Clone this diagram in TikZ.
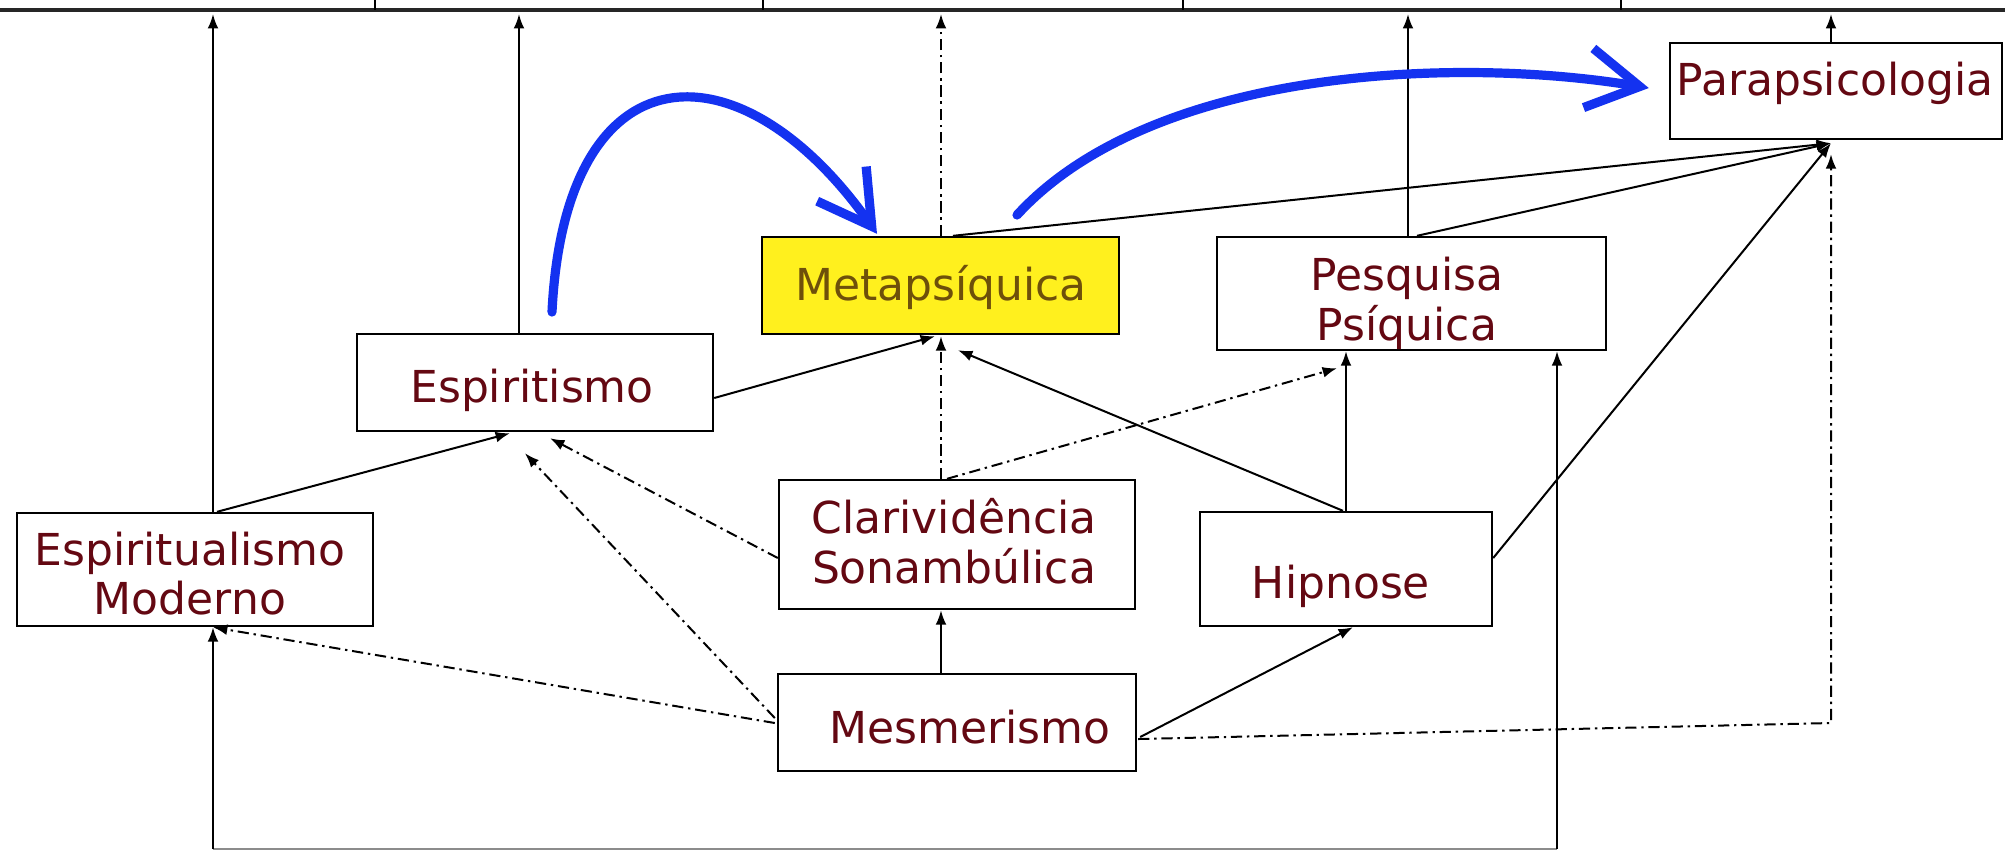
\documentclass[tikz,border=0pt]{standalone}
\usepackage{fontspec}
\setmainfont{DejaVu Sans}
\usetikzlibrary{arrows.meta,calc}
\definecolor{txt}{RGB}{100,8,18}
\definecolor{mettxt}{RGB}{110,80,10}
\definecolor{metfill}{RGB}{255,240,30}
\definecolor{blu}{RGB}{20,50,240}
\begin{document}
\begin{tikzpicture}[x=0.25pt,y=-0.25pt,
  box/.style={draw=black,line width=0.6pt,fill=white,inner sep=0pt},
  lbl/.style={anchor=base,inner sep=0pt,text=txt,font=\fontsize{11}{12.4}\selectfont},
  conn/.style={line width=0.5pt,-{Latex[length=3.6pt,width=2.7pt]}},
  dd/.style={dash pattern=on 2.8pt off 1.2pt on 0.6pt off 1.2pt},
  bluearrow/.style={draw=blu,line width=2.3pt,line cap=round,-{Straight Barb[length=13pt,width=15pt,line width=2.3pt]}}]
\useasboundingbox (0,0) rectangle (2005,851);
\fill[white] (0,0) rectangle (2005,851);
% top bar
\draw[line width=0.9pt,black!85] (0,10) -- (2005,10);
\foreach \x in {375,763,1183,1621} \draw[line width=0.5pt] (\x,0) -- (\x,10);
% boxes
\node[box,minimum width=83pt,minimum height=24pt] (para) at (1836,91) {};
\node[box,fill=metfill,minimum width=89.25pt,minimum height=24.25pt] (meta) at (940.5,285.5) {};
\node[box,minimum width=97.25pt,minimum height=28.25pt] (pesq) at (1411.5,293.5) {};
\node[box,minimum width=89pt,minimum height=24.25pt] (espi) at (535,382.5) {};
\node[box,minimum width=89pt,minimum height=28.25pt] (mod) at (195,569.5) {};
\node[box,minimum width=89pt,minimum height=32.25pt] (clar) at (957,544.5) {};
\node[box,minimum width=73pt,minimum height=28.5pt] (hip) at (1346,569) {};
\node[box,minimum width=89.5pt,minimum height=24.25pt] (mes) at (957,722.5) {};
% texts
\node[lbl] (paraT) at (1835,95) {Parapsicologia};
\node[lbl,text=mettxt] (metaT) at (941,300) {Metapsíquica};
\node[lbl] (pesqT) at (1407,290) {\begin{tabular}[t]{@{}c@{}}Pesquisa\\Psíquica\end{tabular}};
\node[lbl] (espiT) at (532,402) {Espiritismo};
\node[lbl] (modT) at (190,565) {\begin{tabular}[t]{@{}c@{}}Espiritualismo\\Moderno\end{tabular}};
\node[lbl] (clarT) at (954,533) {\begin{tabular}[t]{@{}c@{}}Clarividência\\Sonambúlica\end{tabular}};
\node[lbl] (hipT) at (1341,598) {Hipnose};
\node[lbl] (mesT) at (970,743) {Mesmerismo};
% coordinates
\coordinate (tA) at (213,14);
\coordinate (tB) at (519,14);
\coordinate (tC) at (941,14);
\coordinate (tD) at (1408,14);
\coordinate (tE) at (1831,14);
\coordinate (bL) at (213,849);
\coordinate (bR) at (1557,849);
\coordinate (corner) at (1831,723);
\coordinate (b1s) at (552,312);
\coordinate (b2s) at (1017,215);
% connectors to top bar
\draw[conn] ($(mod.north)+(18,0)$) -- (tA);
\draw[conn] ($(espi.north)+(-16,0)$) -- (tB);
\draw[conn,dd] ($(meta.north)+(0.5,0)$) -- (tC);
\draw[conn] ($(pesq.north)+(-3.5,0)$) -- (tD);
\draw[conn] ($(para.north)+(-5,0)$) -- (tE);
% bottom loop
\draw[line width=0.5pt,black!45] (bL) -- (bR);
\draw[conn] (bL) -- ($(mod.south)+(18,0)$);
\draw[conn] (bR) -- ($(pesq.south)+(145.5,0)$);
% others
\draw[conn] ($(mod.north)+(22,0)$) -- ($(espi.south)+(-25,1)$);
\draw[conn,dd] ($(clar.west)+(0,13.5)$) -- ($(espi.south)+(15,6)$);
\draw[conn,dd] ($(mes.west)+(-2,-4.5)$) -- ($(espi.south)+(-10,21)$);
\draw[conn,dd] ($(mes.west)+(-2,0.5)$) -- ($(mod.south)+(18,0)$);
\draw[conn] ($(espi.east)+(0,15.5)$) -- ($(meta.south)+(-5.5,1)$);
\draw[conn,dd] ($(clar.north)+(-16,0)$) -- ($(meta.south)+(0.5,1)$);
\draw[conn] ($(hip.north)+(-3,0)$) -- ($(meta.south)+(17.5,15)$);
\draw[conn,dd] ($(clar.north)+(-10,0)$) -- ($(pesq.south)+(-74.5,17)$);
\draw[conn] ($(hip.north)+(0,0)$) -- ($(pesq.south)+(-65.5,0)$);
\draw[conn] ($(mes.north)+(-16,0)$) -- ($(clar.south)+(-16,0)$);
\draw[conn] ($(mes.east)+(3,14.5)$) -- ($(hip.south)+(7,0)$);
\draw[conn,dd] ($(mes.east)+(1,16.5)$) -- (corner) -- ($(para.south)+(-5,14)$);
\draw[conn] ($(meta.north)+(12.5,0)$) -- ($(para.south)+(-5,3)$);
\draw[conn] ($(pesq.north)+(5.5,0)$) -- ($(para.south)+(-5,3)$);
\draw[conn] ($(hip.east)+(0,-11)$) -- ($(para.south)+(-5,3)$);
% blue arrows
\draw[bluearrow] (b1s) .. controls (565,45) and (740,40) .. ($(meta.north)+(-63.5,-2)$);
\draw[bluearrow] (b2s) .. controls (1150,70) and (1450,55) .. ($(para.west)+(-20,-3)$);
\end{tikzpicture}
\end{document}
